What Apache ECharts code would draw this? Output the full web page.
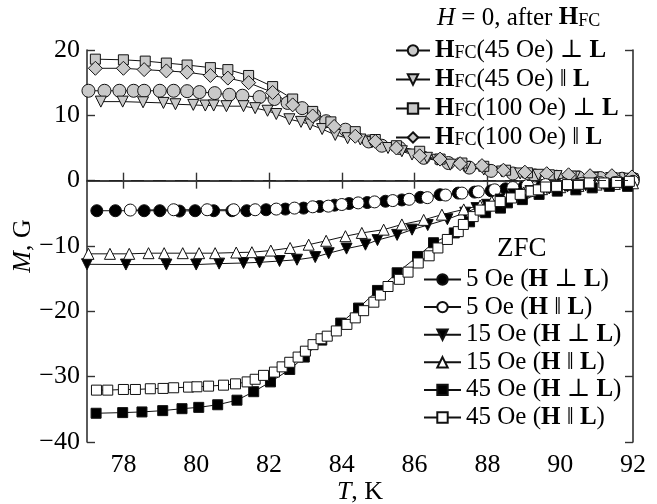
<!DOCTYPE html>
<html><head><meta charset="utf-8">
<script src="https://cdn.jsdelivr.net/npm/echarts@6/dist/echarts.min.js"></script>
<style>html,body{margin:0;padding:0;background:#fff}#c{width:657px;height:504px}</style>
</head><body><div id="c"></div>
<script>
// ---- data (T in K, M in G) ----
const xTicks = [78, 80, 82, 84, 86, 88, 90, 92];
const yTicks = [-40, -30, -20, -10, 0, 10, 20];

const fc45Perp = [[77.04,13.76],[77.48,13.76],[77.89,13.76],[78.28,13.76],[78.57,13.76],[79.0,13.76],[79.38,13.76],[79.75,13.7],[80.09,13.56],[80.51,13.4],[80.91,13.15],[81.27,13.0],[81.74,12.8],[82.15,12.5],[82.51,11.9],[82.91,11.1],[83.24,10.1],[83.57,9.1],[84.1,7.8],[84.74,6.0],[85.1,5.35],[85.59,5.0],[86.25,3.5],[86.93,2.7],[87.5,2.0],[88.1,1.5],[88.7,1.1],[89.3,0.8],[89.9,0.6],[90.5,0.5],[91.1,0.4],[91.7,0.3],[92.0,0.3]];
const fc45Par = [[77.38,12.1],[77.98,12.1],[78.54,12.0],[79.1,11.9],[79.43,11.7],[79.92,11.6],[80.25,11.5],[80.48,11.5],[80.83,11.4],[81.3,11.4],[81.62,11.1],[81.96,10.7],[82.2,10.2],[82.56,9.4],[82.88,9.0],[83.13,8.6],[83.46,7.9],[83.82,7.0],[84.16,6.5],[84.51,6.3],[84.83,5.9],[85.27,5.0],[85.65,4.5],[85.93,4.0],[86.34,3.5],[86.62,3.2],[86.98,2.45],[87.4,2.1],[87.9,1.7],[88.4,1.4],[88.9,1.1],[89.4,0.9],[89.9,0.7],[90.4,0.6],[90.9,0.5],[91.4,0.4],[91.9,0.3]];
const fc100Perp = [[77.23,18.6],[78.0,18.5],[78.6,18.3],[79.18,18.0],[79.75,17.7],[80.39,17.3],[80.87,17.0],[81.44,16.1],[82.1,14.4],[82.65,12.5],[83.2,10.6],[83.7,9.0],[84.37,7.5],[84.92,6.3],[85.5,5.35],[86.14,4.5],[86.7,3.3],[87.3,2.7],[87.9,2.2],[88.5,1.6],[89.1,1.2],[89.7,0.9],[90.3,0.7],[90.9,0.5],[91.5,0.4],[92.0,0.3]];
const fc100Par = [[77.23,17.2],[78.0,17.2],[78.57,17.0],[79.18,16.8],[79.75,16.6],[80.39,16.1],[80.87,15.7],[81.44,15.0],[82.1,13.5],[82.65,11.6],[83.2,9.9],[83.79,8.3],[84.37,6.8],[84.92,6.0],[85.5,5.0],[86.14,3.8],[86.7,3.3],[87.25,2.6],[87.85,2.3],[88.44,1.6],[89.03,1.3],[89.63,1.07],[90.23,0.9],[90.82,0.76],[91.42,0.76],[91.97,0.57]];

const zfc5Perp = [[77.27,-4.6],[77.78,-4.6],[78.57,-4.6],[79.0,-4.6],[79.54,-4.65],[79.97,-4.6],[80.48,-4.6],[80.98,-4.6],[81.39,-4.6],[81.92,-4.45],[82.45,-4.35],[82.95,-4.2],[83.39,-3.95],[83.8,-3.75],[84.2,-3.5],[84.7,-3.35],[85.2,-3.15],[85.65,-2.95],[86.16,-2.55],[86.7,-2.15],[87.2,-1.9],[87.65,-1.75],[88.1,-1.55],[88.5,-1.25],[89.0,-0.95],[89.5,-0.75],[90.0,-0.6],[90.5,-0.5],[91.0,-0.4],[91.5,-0.3],[92.0,-0.2]];
const zfc5Par = [[78.19,-4.5],[79.38,-4.45],[80.3,-4.45],[81.03,-4.45],[81.62,-4.45],[82.2,-4.35],[82.7,-4.2],[83.2,-4.0],[83.63,-3.9],[84.0,-3.65],[84.45,-3.4],[84.9,-3.25],[85.4,-3.05],[85.85,-2.85],[86.35,-2.6],[86.85,-2.2],[87.3,-1.9],[87.75,-1.7],[88.2,-1.4],[88.7,-1.05],[89.1,-0.75],[89.6,-0.6],[90.1,-0.5],[90.6,-0.4],[91.1,-0.3],[91.6,-0.2],[92.0,-0.1]];
const zfc15Perp = [[77.0,-12.8],[78.07,-12.84],[79.18,-12.84],[80.0,-12.84],[80.63,-12.7],[81.3,-12.6],[81.74,-12.5],[82.29,-12.3],[82.77,-12.1],[83.27,-11.7],[83.64,-11.1],[84.13,-10.4],[84.65,-9.8],[84.98,-9.1],[85.52,-8.3],[85.93,-7.5],[86.36,-6.8],[86.9,-5.9],[87.39,-4.9],[87.7,-4.2],[87.99,-3.7],[88.36,-2.9],[88.72,-2.1],[89.18,-1.6],[89.7,-1.2],[90.2,-0.9],[90.7,-0.7],[91.2,-0.5],[91.7,-0.4]];
const zfc15Par = [[77.04,-11.2],[77.63,-11.2],[78.16,-11.2],[78.69,-11.1],[79.12,-11.1],[79.63,-11.1],[80.08,-11.1],[80.52,-11.1],[81.1,-11.0],[81.53,-10.95],[82.05,-10.7],[82.58,-10.3],[83.09,-9.8],[83.57,-9.2],[84.1,-8.5],[84.55,-8.0],[85.15,-7.5],[85.65,-6.7],[86.25,-6.0],[86.75,-5.2],[87.35,-4.4],[87.8,-3.8],[88.12,-3.2],[88.5,-2.6],[89.0,-1.8],[89.5,-1.3],[90.0,-1.0],[90.5,-0.8],[91.0,-0.6],[91.5,-0.5],[92.0,-0.4]];
const zfc45Perp = [[77.25,-35.6],[77.98,-35.5],[78.51,-35.4],[79.08,-35.2],[79.61,-34.9],[80.07,-34.7],[80.59,-34.3],[81.12,-33.6],[81.58,-32.3],[82.04,-30.8],[82.57,-28.9],[82.97,-27.0],[83.45,-24.4],[83.97,-21.8],[84.46,-19.5],[84.98,-16.8],[85.52,-14.1],[86.08,-11.6],[86.52,-9.5],[87.09,-8.0],[87.51,-6.3],[87.95,-4.9],[88.36,-4.2],[88.55,-3.4],[88.96,-2.9],[89.42,-2.1],[89.92,-1.6],[90.43,-1.4],[90.88,-1.1],[91.35,-0.87],[91.85,-0.87]];
const zfc45Par = [[77.26,-32.06],[77.57,-32.06],[78.0,-31.96],[78.33,-31.96],[78.74,-31.85],[79.09,-31.8],[79.38,-31.7],[79.79,-31.6],[80.02,-31.55],[80.34,-31.45],[80.75,-31.3],[81.08,-31.1],[81.4,-30.8],[81.62,-30.4],[81.85,-29.8],[82.15,-29.3],[82.36,-28.5],[82.57,-27.8],[82.8,-27.0],[83.0,-26.1],[83.21,-25.1],[83.43,-24.2],[83.6,-23.8],[83.85,-23.0],[84.14,-22.0],[84.37,-21.0],[84.6,-19.9],[84.88,-18.6],[85.06,-17.5],[85.27,-16.2],[85.58,-15.1],[85.82,-14.0],[86.1,-12.6],[86.4,-11.5],[86.64,-10.3],[86.9,-9.0],[87.2,-7.8],[87.34,-6.7],[87.61,-5.5],[87.8,-4.5],[88.08,-3.9],[88.35,-3.2],[88.66,-2.65],[88.9,-2.1],[89.2,-1.6],[89.4,-1.4],[89.6,-0.97],[89.9,-0.87],[90.2,-0.6],[90.5,-0.55],[90.8,-0.35],[91.2,-0.35],[91.55,-0.26],[91.9,-0.1]];

const fcNames = ['HFC(45 Oe) ⊥ L', 'HFC(45 Oe) ‖ L', 'HFC(100 Oe) ⊥ L', 'HFC(100 Oe) ‖ L'];
const zfcNames = ['5 Oe (H ⊥ L)', '5 Oe (H ‖ L)', '15 Oe (H ⊥ L)', '15 Oe (H ‖ L)', '45 Oe (H ⊥ L)', '45 Oe (H ‖ L)'];
const zfcTitle = 'ZFC';

// ---- chart ----
const F = '"Liberation Serif", "DejaVu Serif", serif';
const GRAY = '#c9c9c9';
const FS = 25;
const richBase = {
  n: {fontFamily: F, fontSize: FS, fontWeight: 'normal', color: '#000', lineHeight: 24},
  b: {fontFamily: F, fontSize: FS, fontWeight: 'bold', color: '#000', lineHeight: 24},
  i: {fontFamily: F, fontSize: FS, fontWeight: 'normal', fontStyle: 'italic', color: '#000', lineHeight: 24},
  s: {fontFamily: F, fontSize: 18, fontWeight: 'normal', color: '#000', lineHeight: 13, verticalAlign: 'bottom'}
};
const richAxis = {
  n: {fontFamily: F, fontSize: 26, fontWeight: 'normal', color: '#000', lineHeight: 26},
  i: {fontFamily: F, fontSize: 26, fontWeight: 'normal', fontStyle: 'italic', color: '#000', lineHeight: 26}
};
function toRich(name) {
  if (name.startsWith('HFC')) {
    const mid = name.slice(3, name.length - 1);
    return '{b|H}{s|FC}{n|' + mid + '}{b|L}';
  }
  const m = name.match(/^(.*\()H (.) L\)$/);
  if (m) return '{n|' + m[1] + '}{b|H}{n| ' + m[2] + ' }{b|L}{n|)}';
  return name;
}
function mk(name, data, symbol, size, fill, rotate) {
  return {
    name, type: 'line', data, symbol, symbolSize: size, symbolRotate: rotate || 0,
    showSymbol: true, animation: false, z: 3,
    lineStyle: {color: '#111', width: 1},
    itemStyle: {color: fill, borderColor: '#111', borderWidth: 1},
    emphasis: {disabled: true}
  };
}
const series = [
  mk(fcNames[0], fc45Perp, 'circle', 13, GRAY),
  mk(fcNames[1], fc45Par, 'triangle', 11, GRAY, 180),
  mk(fcNames[2], fc100Perp, 'rect', 10, GRAY),
  mk(fcNames[3], fc100Par, 'diamond', 14, GRAY),
  mk(zfcNames[0], zfc5Perp, 'circle', 12, '#000'),
  mk(zfcNames[1], zfc5Par, 'circle', 12, '#fff'),
  mk(zfcNames[2], zfc15Perp, 'triangle', 11, '#000', 180),
  mk(zfcNames[3], zfc15Par, 'triangle', 11, '#fff'),
  mk(zfcNames[4], zfc45Perp, 'rect', 10, '#000'),
  mk(zfcNames[5], zfc45Par, 'rect', 10, '#fff')
];
series[0].markLine = {
  silent: true, symbol: ['none', 'none'], animation: false,
  label: {show: false},
  lineStyle: {color: '#222', type: [13, 9], width: 1.2},
  data: [{yAxis: 0}]
};

const axisLine = {lineStyle: {color: '#333', width: 1.6}};
const tickStyle = {color: '#333', width: 1.4};
const minus = v => (v < 0 ? '\u2212' + (-v) : String(v));

const option = {
  animation: false,
  backgroundColor: '#fff',
  grid: {left: 87, right: 24, top: 50, bottom: 62, containLabel: false, outerBoundsMode: 'none'},
  title: [
    {text: '{i|H}{n| = 0, after }{b|H}{s|FC}', left: 437, top: 6, padding: 0,
     textStyle: {rich: richBase, fontWeight: 'normal'}},
    {text: zfcTitle, left: 497, top: 235, padding: 0,
     textStyle: {fontFamily: F, fontSize: 27, fontWeight: 'normal', color: '#000'}}
  ],
  legend: [
    {data: fcNames, orient: 'vertical', left: 395, top: 38, padding: 0,
     itemWidth: 34, itemHeight: 13, itemGap: 4, selectedMode: false,
     formatter: toRich, textStyle: {rich: richBase, fontFamily: F, fontSize: FS, color: '#000'}},
    {data: zfcNames, orient: 'vertical', left: 423, top: 267, padding: 0,
     itemWidth: 37, itemHeight: 13, itemGap: 2.6, selectedMode: false,
     formatter: toRich, textStyle: {rich: richBase, fontFamily: F, fontSize: FS, color: '#000'}}
  ],
  graphic: [
    {type: 'rect', shape: {x: 392, y: 46, width: 233, height: 8}, style: {fill: '#fff'}, z: 1, silent: true}
  ],
  xAxis: [
    {type: 'value', min: 77, max: 92, position: 'bottom',
     axisLine, splitLine: {show: false},
     axisTick: {inside: true, length: 8, customValues: xTicks, lineStyle: tickStyle},
     axisLabel: {customValues: xTicks, fontFamily: F, fontSize: 26, color: '#000', margin: 10},
     name: '{i|T}{n|, K}', nameLocation: 'middle', nameGap: 37, nameMoveOverlap: false,
     nameTextStyle: {rich: richAxis}},
    {type: 'value', min: 77, max: 92, position: 'top',
     axisLine, splitLine: {show: false},
     axisTick: {inside: true, length: 8, customValues: xTicks, lineStyle: tickStyle},
     axisLabel: {show: false}}
  ],
  yAxis: [
    {type: 'value', min: -40, max: 20, interval: 10, position: 'left',
     axisLine, splitLine: {show: false},
     axisTick: {inside: true, length: 8, lineStyle: tickStyle},
     axisLabel: {fontFamily: F, fontSize: 26, color: '#000', margin: 7, formatter: minus},
     name: '{i|M}{n|, G}', nameLocation: 'middle', nameGap: 51, nameRotate: 90, nameMoveOverlap: false,
     nameTextStyle: {rich: richAxis}},
    {type: 'value', min: -40, max: 20, interval: 10, position: 'right',
     axisLine, splitLine: {show: false},
     axisTick: {inside: true, length: 8, lineStyle: tickStyle},
     axisLabel: {show: false}}
  ],
  series
};
const chart = echarts.init(document.getElementById('c'), null, {renderer: 'canvas'});
chart.setOption(option);
</script>
</body></html>
